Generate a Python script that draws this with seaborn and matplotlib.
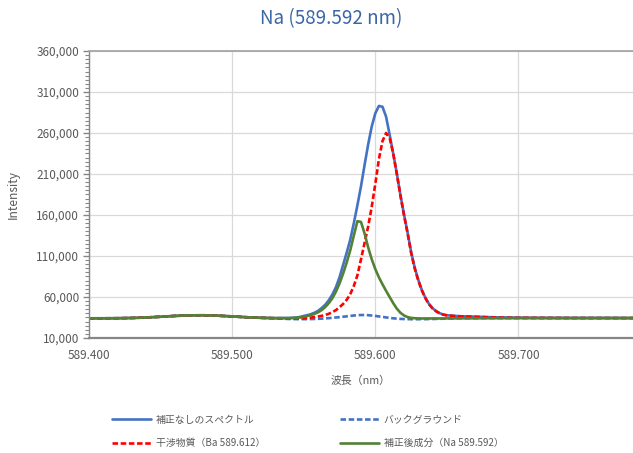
import numpy as np
import pandas as pd
import seaborn as sns
import matplotlib.pyplot as plt
from matplotlib.ticker import MultipleLocator, FuncFormatter

sns.set_theme(style="whitegrid")
plt.rcParams['font.family'] = ['Noto Sans CJK JP', 'DejaVu Sans']

# wavelength grid (nm)
wl_left = [589.40, 589.41, 589.42, 589.43, 589.44, 589.45, 589.46, 589.47,
           589.48, 589.49, 589.50, 589.51, 589.52]
wl_main = [589.53, 589.54,
           589.545, 589.5475, 589.55, 589.5525, 589.555, 589.5575, 589.56, 589.5625, 589.565, 589.5675,
           589.57, 589.5725, 589.575, 589.5775, 589.58, 589.5825, 589.585, 589.5875, 589.59, 589.5925,
           589.595, 589.5975, 589.60, 589.6025, 589.605, 589.6075, 589.61, 589.6125, 589.615, 589.6175,
           589.62, 589.6225, 589.625, 589.6275, 589.63, 589.6325, 589.635, 589.6375, 589.64, 589.6425,
           589.645, 589.6475, 589.65,
           589.655, 589.66, 589.67, 589.68, 589.69, 589.70, 589.72, 589.74, 589.76, 589.78]

# common baseline on the left (all four curves overlap here)
base_left = [34000, 34000, 34100, 34400, 35000, 35900, 36900, 37600, 37700, 37200, 36300, 35300, 34600]

raw_main = [34200, 34400,
            35000, 35700, 36800, 37800, 39000, 40800, 43000, 46500, 50500, 56000,
            63000, 72000, 84000, 99000, 114000, 130000, 150000, 172000, 195000, 221000,
            246000, 268000, 284000, 293000, 292000, 280000, 258000, 235000, 211000, 185000,
            161000, 139000, 115000, 96000, 81000, 68500, 59000, 51500, 46300, 42800,
            40200, 38600, 37700,
            37000, 36500, 36000, 35400, 35000, 34800, 34600, 34500, 34400, 34300]

bg_main = [33800, 33200,
           33000, 33000, 33000, 33000, 33100, 33200, 33400, 33600, 33900, 34200,
           34600, 35000, 35400, 35900, 36400, 36900, 37400, 37800, 38000, 38000,
           37800, 37400, 36900, 36300, 35700, 35100, 34500, 34000, 33600, 33300,
           33100, 33000, 32900, 32900, 32900, 33000, 33000, 33100, 33200, 33300,
           33400, 33500, 33600,
           33800, 34000, 34100, 34200, 34200, 34200, 34200, 34200, 34300, 34300]

ba_main = [34200, 33900,
           33900, 33900, 34000, 34400, 34900, 35500, 36200, 37000, 38000, 39500,
           41500, 44000, 47500, 51500, 56500, 63500, 73500, 86500, 106000, 126000,
           146000, 170000, 198000, 228000, 250000, 260000, 254000, 235000, 210000, 184000,
           160000, 138000, 114000, 95000, 80000, 68000, 58500, 51000, 46000, 42500,
           40000, 38400, 37500,
           36800, 36300, 35800, 35200, 34800, 34600, 34500, 34400, 34300, 34300]

na_main = [34200, 34200,
           34600, 35100, 35900, 36800, 37900, 39400, 41300, 44000, 47700, 52500,
           58500, 66500, 76500, 88500, 102000, 117000, 135000, 152500, 151500, 137500,
           120500, 106000, 94000, 84000, 75500, 67500, 60000, 52500, 45800, 40800,
           37500, 35500, 34500, 34100, 33900, 33800, 33800, 33800, 33800, 33800,
           33800, 33800, 33900,
           33900, 34000, 34000, 34100, 34100, 34200, 34200, 34200, 34300, 34300]

names = ["補正なしのスペクトル", "バックグラウンド", "干渉物質（Ba 589.612）", "補正後成分（Na 589.592）"]
values = [raw_main, bg_main, ba_main, na_main]

wl = wl_left + wl_main
frames = []
for name, v in zip(names, values):
    frames.append(pd.DataFrame({"wavelength": wl, "intensity": base_left + v, "series": name}))
df = pd.concat(frames, ignore_index=True)

colors = ["#4472C4", "#4472C4", "#FF0000", "#548235"]
dashed = [False, True, True, False]

fig = plt.figure(figsize=(6.33, 4.53), dpi=100)
ax = fig.add_axes([0.1406, 0.2539, 0.8594, 0.6335])

for name, c, d in zip(names, colors, dashed):
    sub = df[df["series"] == name]
    sns.lineplot(data=sub, x="wavelength", y="intensity", ax=ax, color=c,
                 linewidth=1.9, label=name, linestyle="--" if d else "-",
                 dashes=False)
for line, d in zip(ax.lines, dashed):
    line.set_solid_joinstyle("round")
    if d:
        line.set_dashes((2.1, 1.0))

ax.set_xlim(589.4, 589.78)
ax.set_ylim(10000, 360000)
ax.set_xticks([589.4, 589.5, 589.6, 589.7])
ax.set_yticks(np.arange(10000, 360001, 50000))
ax.yaxis.set_minor_locator(MultipleLocator(5000))
ax.xaxis.set_major_formatter(FuncFormatter(lambda v, p: f"{v:.3f}"))
ax.yaxis.set_major_formatter(FuncFormatter(lambda v, p: f"{v:,.0f}"))

ax.grid(True, which="major", color="#D9D9D9", linewidth=0.9)
ax.grid(False, which="minor")
ax.spines["right"].set_visible(False)
ax.spines["top"].set_color("#A6A6A6")
ax.spines["top"].set_linewidth(1.3)
ax.spines["left"].set_color("#868686")
ax.spines["left"].set_linewidth(1.0)
ax.spines["bottom"].set_color("#868686")
ax.spines["bottom"].set_linewidth(1.6)

ax.tick_params(axis="y", which="major", length=4, width=1, color="#868686",
               direction="out", left=True, labelsize=8.5, labelcolor="#595959", pad=3)
ax.tick_params(axis="y", which="minor", length=3, width=0.8, color="#868686",
               direction="out", left=True)
ax.tick_params(axis="x", which="both", length=0, labelsize=8.5, labelcolor="#595959", pad=8)

ax.set_xlabel("波長（nm）", fontsize=7.8, color="#595959", labelpad=10)
ax.set_ylabel("Intensity", fontsize=8.6, color="#595959", labelpad=12)

fig.text(0.523, 0.958, "Na (589.592 nm)", ha="center", va="center",
         fontsize=13.5, color="#3A66A8")

h, l = ax.get_legend_handles_labels()
ax.get_legend().remove()
order = [0, 2, 1, 3]
fig.legend([h[i] for i in order], [l[i] for i in order], ncol=2, loc="center",
           bbox_to_anchor=(0.486, 0.0475), frameon=False, fontsize=7.1,
           handlelength=3.95, handletextpad=0.5, columnspacing=7.6,
           labelspacing=1.35, labelcolor="#595959")

fig.savefig("out.png", dpi=100)
